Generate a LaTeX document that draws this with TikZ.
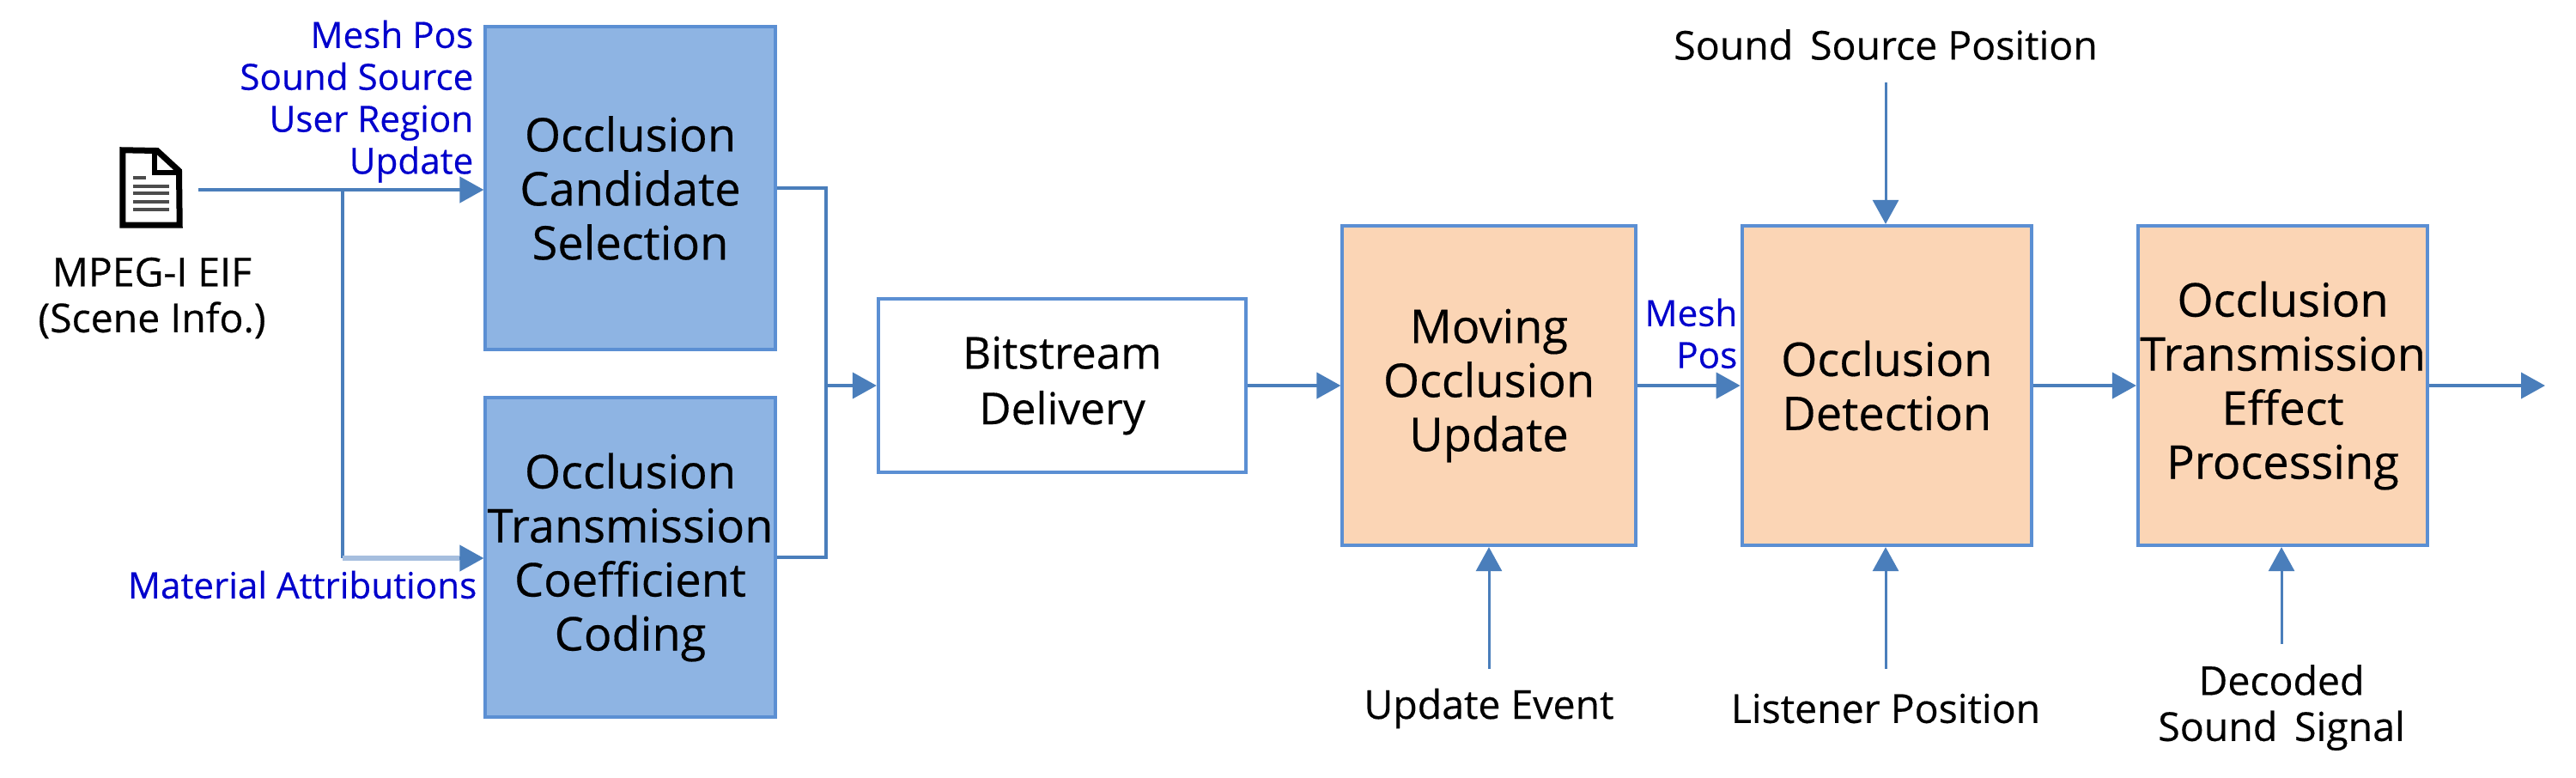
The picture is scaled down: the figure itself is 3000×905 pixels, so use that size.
\documentclass[tikz,border=0pt]{standalone}
\usepackage{fontspec}
\setmainfont{Open Sans}
\newfontfamily\heavyfont[FakeBold=0.35]{Open Sans}
\usepackage{tikz}
\usetikzlibrary{arrows.meta,positioning}

\definecolor{linecol}{HTML}{4A7EBB}
\definecolor{edgecol}{HTML}{5B8FD3}
\definecolor{bluefill}{HTML}{8EB4E3}
\definecolor{peachfill}{HTML}{FBD5B5}
\definecolor{fadecol}{HTML}{A6BEDE}
\definecolor{notecol}{HTML}{0000CC}

\begin{document}
\begin{tikzpicture}[x=0.01cm,y=-0.01cm]
   \tikzstyle{block}=[draw=edgecol,line width=0.4mm,align=center,inner sep=0pt,font=\heavyfont\fontsize{15.4}{17.9}\selectfont]
   \tikzstyle{inblock}=[block,fill=bluefill,minimum width=3.37cm]
   \tikzstyle{outblock}=[block,fill=peachfill,minimum width=3.37cm,minimum height=3.72cm,node distance=1.2cm]
   \tikzstyle{note}=[text=notecol,align=right,inner sep=0pt,font=\heavyfont\fontsize{12}{13.9}\selectfont]
   \tikzstyle{lab}=[align=center,inner sep=0pt,font=\heavyfont\fontsize{13.2}{15.2}\selectfont]
   \tikzstyle{flow}=[linecol,line width=0.4mm,-{Triangle[length=2.8mm,width=3.0mm]}]
   \tikzstyle{wire}=[linecol,line width=0.35mm]
   \useasboundingbox (0,0) rectangle (3000,905) ;

   \node (eif) [minimum width=0.65cm,minimum height=0.86cm,inner sep=0pt] at (176,218.5) {} ;
   \draw [black,line width=0.7mm,fill=white,line join=miter]
      (eif.north west) -- (183,175.5) -- (208.5,199) -- (eif.south east) -- (eif.south west) -- cycle ;
   \draw [black,line width=0.6mm] (180,176) -- (180,201) -- (208,201) ;
   \draw [black!70,line width=0.4mm] (155,207) -- (170,207) ;
   \foreach \y in {217,225,235,244} {
      \draw [black!70,line width=0.4mm] (155,\y) -- (197,\y) ;
   }
   \node (eiflab) [lab] at (177,347) {MPEG-I EIF\\(Scene Info.)} ;

   \node (cand) [inblock,minimum height=3.75cm] at (734,219) {Occlusion\\Candidate\\Selection} ;
   \node (coef) [inblock,minimum height=3.72cm] at (734,649) {Occlusion\\Transmission\\Coefficient\\Coding} ;
   \node (bits) [block,fill=white,minimum width=4.28cm,minimum height=2.01cm,font=\heavyfont\fontsize{14.6}{18.4}\selectfont] at (1237,449) {Bitstream\\Delivery} ;
   \node (moving) [outblock,minimum width=3.41cm] at (1734,449) {Moving\\Occlusion\\Update} ;
   \node (detect) [outblock,right=of moving] {Occlusion\\Detection} ;
   \node (effect) [outblock,right=of detect] {Occlusion\\Transmission\\Effect\\Processing} ;

   \node (candnote) [note,anchor=north east] at (552,23) {Mesh Pos\\Sound Source\\User Region\\Update} ;
   \node (coefnote) [note,anchor=east] at (556,681) {Material Attributions} ;
   \node (meshnote) [note,anchor=north east] at (2024,347) {Mesh\\Pos} ;
   \node (srclab) [lab] at (2196,52) {Sound\, Source Position} ;
   \node (evlab) [lab] at (1734,825) {Update Event} ;
   \node (lstlab) [lab] at (2196,825) {Listener Position} ;
   \node (siglab) [lab] at (2657,824) {Decoded\\Sound\, Signal} ;

   \coordinate (eifout) at (231,221) ;
   \coordinate (split) at (399,221) ;
   \coordinate (join) at (962,449) ;
   \coordinate (srcin) at (2196,96) ;
   \coordinate (evin) at (1734,779) ;
   \coordinate (lstin) at (2196,779) ;
   \coordinate (sigin) at (2657,750) ;
   \coordinate (final) at (2964,449) ;

   \draw [flow] (eifout) -- (cand.west |- eifout) ;
   \draw [wire] (split) |- (399,650) ;
   \draw [fadecol,line width=0.6mm] (399,650) -- (535,650) ;
   \draw [flow] (535,650) -- (coef.west |- 0,650) ;
   \draw [wire] (cand.east) -| (join) ;
   \draw [wire] (coef.east) -| (join) ;
   \draw [flow] (join) -- (bits.west) ;
   \draw [flow] (bits.east) -- (moving.west) ;
   \draw [flow] (moving.east) -- (detect.west) ;
   \draw [flow] (detect.east) -- (effect.west) ;
   \draw [flow] (effect.east) -- (final) ;
   \draw [flow,line width=0.3mm] (srcin) -- (srcin |- detect.north) ;
   \draw [flow,line width=0.3mm] (evin) -- (moving.south) ;
   \draw [flow,line width=0.3mm] (lstin) -- (lstin |- detect.south) ;
   \draw [flow,line width=0.3mm] (sigin) -- (sigin |- effect.south) ;
\end{tikzpicture}
\end{document}
